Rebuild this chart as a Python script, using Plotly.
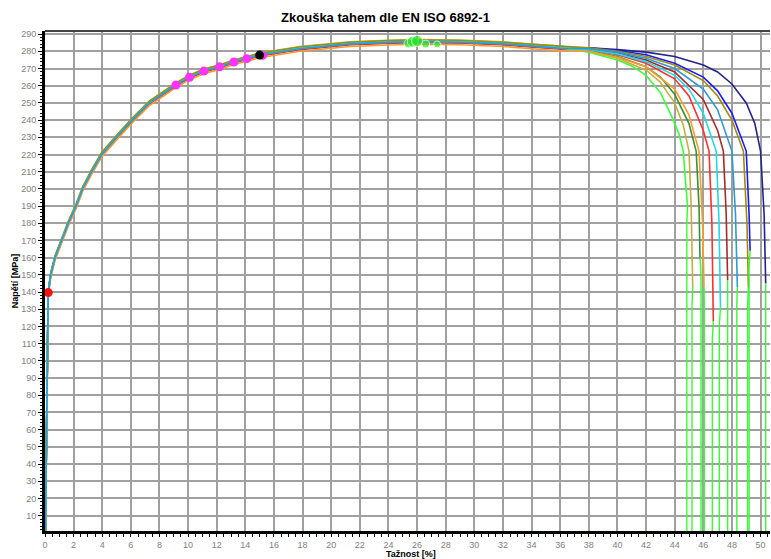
import plotly.graph_objects as go

# shared hardening part (strain %, stress MPa)
base_x = [0.03, 0.08, 0.13, 0.18, 0.22, 0.30, 0.40, 0.70, 1.17, 1.63, 2.17, 2.63, 3.26, 3.96,
          5.0, 6.1, 7.3, 9.15, 10.1, 11.1, 12.2, 13.2, 14.1, 15.0, 17.8, 21.3, 24.0, 26.0,
          29.0, 32.0, 34.0, 36.0]
base_y = [1, 40, 90, 125, 138, 144, 150, 160, 170, 180, 190, 200, 210, 220,
          230, 240, 250, 260.4, 265, 268.5, 271, 273.8, 275.7, 277.8, 281.5, 284.3, 285.2, 285.6,
          285.3, 284.3, 283.0, 281.8]

curve_colors = ["#3cff3c", "#c2b040", "#3a8f3a", "#ff9a2a", "#ff3030", "#22d8e8",
                "#a52a2a", "#2b9ad6", "#a08c00", "#1a1aff", "#24248c"]
# small vertical shift of each specimen in the common part
curve_shift = [0.3, 1.2, 0.4, -1.5, -0.3, 0.2, -0.5, 0.0, 1.0, 0.2, 0.0]
# order in which the specimens are drawn (last one on top)
draw_order = [10, 9, 6, 4, 2, 0, 1, 8, 3, 5, 7]

tail_x = [
    [38, 40, 41, 42, 43, 43.8, 44.3, 44.6, 44.75, 44.9],
    [38, 40, 42, 43, 44, 44.6, 45.0, 45.15, 45.26],
    [38, 40, 42, 43, 44, 45.0, 45.5, 45.7, 45.77],
    [38, 40, 42, 44, 45.0, 45.7, 45.95, 46.05],
    [38, 40, 42, 44, 45, 46.0, 46.4, 46.6, 46.7],
    [38, 40, 42, 44, 45, 46.0, 46.9, 47.1, 47.2],
    [38, 40, 42, 44, 46, 47.0, 47.4, 47.6, 47.7],
    [38, 40, 42, 44, 46, 47.0, 48.0, 48.25, 48.38],
    [38, 40, 42, 44, 46, 47.0, 48.0, 48.8, 49.05, 49.15],
    [38, 40, 42, 44, 46, 47.0, 48.0, 49.0, 49.2, 49.27],
    [38, 40, 42, 44, 46, 47.0, 48.0, 49.0, 49.6, 50.0, 50.25, 50.36],
]
tail_y = [
    [279.5, 275, 271.5, 266, 256, 242, 232, 222, 205, 190],
    [280, 276, 269, 262, 250, 237, 222, 190, 143],
    [280.5, 277, 271, 265, 255, 238, 222, 190, 160],
    [280, 276.5, 271, 258, 243, 222, 180, 143],
    [281, 278, 273, 264, 254, 234, 222, 180, 123],
    [281, 278.5, 274, 266, 258, 244, 222, 180, 131],
    [281.5, 279, 275, 268, 252, 234, 222, 185, 147],
    [281.5, 279.5, 276, 270, 258, 246, 222, 185, 143],
    [282, 280, 277, 272, 263, 254, 240, 222, 180, 143],
    [282, 280.5, 278, 273, 265, 257, 244, 222, 185, 164],
    [282, 281, 279.5, 277, 272, 268, 261, 250, 238, 222, 185, 145],
]
# fracture: x where the green drop line reaches the axis
frac_x = [44.85, 45.21, 45.84, 46.07, 46.63, 47.12, 47.70, 48.34, 49.10, 49.20, 50.36]
frac_color = "#33ff33"

# evaluation points
yield_x, yield_y = [0.23], [139.7]
mag_x = [9.15, 10.1, 11.1, 12.2, 13.2, 14.1, 15.2]
mag_y = [260.4, 264.9, 268.5, 271.0, 273.8, 275.7, 277.6]
blk_x, blk_y = [15.0], [277.8]
grn_x = [25.4, 25.7, 26.0, 26.6, 27.4]
grn_y = [284.6, 285.6, 286.0, 284.2, 284.0]
grn_s = [9, 11, 11, 8, 7]

x_ticks = list(range(0, 51, 2))
y_ticks = list(range(10, 291, 10))

fig = go.Figure()

for i in draw_order:
    xs = base_x + tail_x[i]
    ys = [v + curve_shift[i] for v in base_y] + tail_y[i]
    fig.add_trace(go.Scatter(x=xs, y=ys, mode="lines",
                             line=dict(color=curve_colors[i], width=1.6),
                             showlegend=False, hoverinfo="skip"))
for i in range(len(curve_colors)):
    fig.add_trace(go.Scatter(x=[tail_x[i][-1], frac_x[i], frac_x[i]],
                             y=[tail_y[i][-1], tail_y[i][-1] - 10, 0],
                             mode="lines", line=dict(color=frac_color, width=1.4),
                             showlegend=False, hoverinfo="skip"))

fig.add_trace(go.Scatter(x=yield_x, y=yield_y, mode="markers",
                         marker=dict(color="#ff1010", size=9), showlegend=False))
fig.add_trace(go.Scatter(x=mag_x, y=mag_y, mode="markers",
                         marker=dict(color="#ff33ff", size=9), showlegend=False))
fig.add_trace(go.Scatter(x=blk_x, y=blk_y, mode="markers",
                         marker=dict(color="#000000", size=9), showlegend=False))
fig.add_trace(go.Scatter(x=grn_x, y=grn_y, mode="markers",
                         marker=dict(color="#22ee22", size=grn_s), showlegend=False))

tick_font = dict(family="Arial", size=9, color="#808080")
fig.update_layout(
    width=771, height=559,
    margin=dict(l=45, r=1, t=31, b=28, autoexpand=False),
    paper_bgcolor="white", plot_bgcolor="white",
    title=dict(text="<b>Zkouška tahem dle EN ISO 6892-1</b>", x=0.5, xref="container",
               y=1 - 17 / 559, yref="container", xanchor="center", yanchor="middle",
               font=dict(family="Liberation Sans Narrow, Arial", size=13, color="black")),
    xaxis=dict(range=[0, 50.66], tickvals=x_ticks, showgrid=True, gridcolor="#a0a0a0",
               gridwidth=1.6, zeroline=False, showline=True, linecolor="black", linewidth=3,
               ticks="outside", ticklen=3, tickcolor="black", tickfont=tick_font,
               automargin=False,
               minor=dict(dtick=0.5, tick0=0, ticks="outside", ticklen=3, tickcolor="black",
                          showgrid=False)),
    yaxis=dict(range=[1.1, 291.8], tickvals=y_ticks, showgrid=True, gridcolor="#a0a0a0",
               gridwidth=1.6, zeroline=False, showline=True, linecolor="black", linewidth=3,
               ticks="outside", ticklen=4, tickcolor="black", tickfont=tick_font,
               automargin=False,
               minor=dict(dtick=2, tick0=0, ticks="outside", ticklen=2, tickcolor="black",
                          showgrid=False)),
    annotations=[
        dict(text="<b>Tažnost [%]</b>", xref="paper", yref="paper", x=0.505, y=-0.045,
             xanchor="center", yanchor="middle", showarrow=False,
             font=dict(family="Arial", size=9, color="black")),
        dict(text="<b>Napětí [MPa]</b>", xref="paper", yref="paper", x=-0.041, y=0.5,
             xanchor="center", yanchor="middle", showarrow=False, textangle=-90,
             font=dict(family="Arial", size=9, color="black")),
    ],
    shapes=[dict(type="line", xref="paper", yref="paper", x0=0, x1=1, y0=1, y1=1,
                 line=dict(color="#444444", width=2))],
)

fig.write_html("out.html", config={"displayModeBar": False},
               post_script="document.body.style.margin='0';document.body.style.overflow='hidden';")
